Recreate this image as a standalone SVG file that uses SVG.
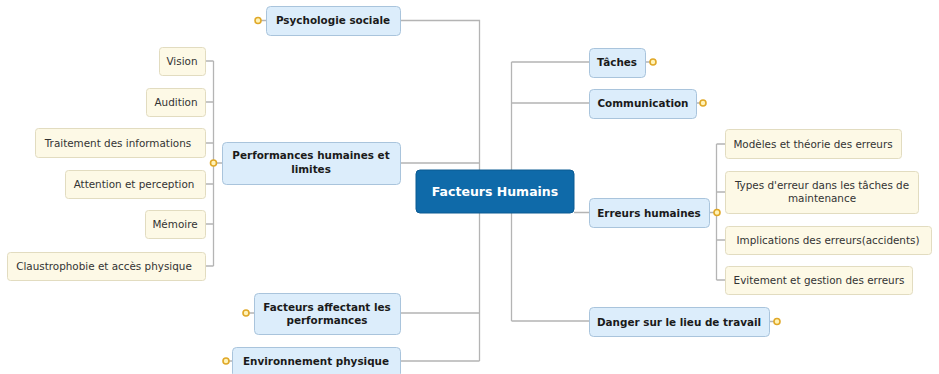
<svg xmlns="http://www.w3.org/2000/svg" width="939" height="374" viewBox="0 0 939 374">
<defs>
<style>
.bg{fill:#ffffff}
.ln{fill:none;stroke:#b4b4b4;stroke-width:1.3}
.sub{fill:#dcedfb;stroke:#a9c4dc;stroke-width:1}
.leaf{fill:#fdf9e6;stroke:#e2dcc0;stroke-width:1}
.root{fill:#0f6aa9;stroke:#0b5a92;stroke-width:1}
.dot{fill:#fff3b8;stroke:#e0a828;stroke-width:1.6}
.ts{font-family:"DejaVu Sans",Verdana,sans-serif;font-weight:bold;font-size:10.4px;fill:#1a1a1a}
.tl{font-family:"DejaVu Sans",Verdana,sans-serif;font-size:10.4px;fill:#333333}
.tr{font-family:"DejaVu Sans",Verdana,sans-serif;font-weight:bold;font-size:12.5px;fill:#ffffff}
</style>
</defs>
<rect class="bg" x="0" y="0" width="939" height="374"/>
<g id="connectors">
<path class="ln" d="M400 20.5H479.5V361M400 163H479.5M400 313H479.5M400 361H479.5M479.5 191H416"/>
<path class="ln" d="M574 212.5H589M511.5 62V321M511.5 62H589M511.5 103H589M511.5 321H589"/>
<path class="ln" d="M205 61H213.5M205 102H213.5M205 143H213.5M205 184H213.5M205 224H213.5M205 266H213.5M213.5 61V266M213.5 163H222"/>
<path class="ln" d="M709 212.5H716.5M716.5 144V280M716.5 144H725M716.5 192H725M716.5 240H725M716.5 280H725"/>
<path class="ln" d="M258 20.5H266M246 313H254M226 361H232M645 62H653M696 103H703M769 321.5H777"/>
</g>
<g id="root"><rect class="root" x="416" y="170" width="158" height="43" rx="4"/><text class="tr" x="495" y="196" text-anchor="middle">Facteurs Humains</text></g>
<g id="psychologie"><rect class="sub" x="266.5" y="6.5" width="134" height="29" rx="4"/><text class="ts" x="333" y="24" text-anchor="middle">Psychologie sociale</text><circle class="dot" cx="258" cy="20.5" r="3"/></g>
<g id="performances"><rect class="sub" x="222.5" y="142.5" width="178" height="42" rx="4"/><text class="ts" x="311" y="159" text-anchor="middle">Performances humaines et</text><text class="ts" x="311" y="173" text-anchor="middle">limites</text><circle class="dot" cx="213.5" cy="163" r="3"/></g>
<g id="facteurs"><rect class="sub" x="254.5" y="293.5" width="146" height="41" rx="4"/><text class="ts" x="327" y="311" text-anchor="middle">Facteurs affectant les</text><text class="ts" x="327" y="324" text-anchor="middle">performances</text><circle class="dot" cx="246" cy="313" r="3"/></g>
<g id="environnement"><rect class="sub" x="232.5" y="347.5" width="168" height="30" rx="4"/><text class="ts" x="316" y="365" text-anchor="middle">Environnement physique</text><circle class="dot" cx="226" cy="361" r="3"/></g>
<g id="vision"><rect class="leaf" x="159.5" y="47.5" width="46" height="28" rx="3"/><text class="tl" x="182" y="64.5" text-anchor="middle">Vision</text></g>
<g id="audition"><rect class="leaf" x="146.5" y="88.5" width="59" height="28" rx="3"/><text class="tl" x="176" y="105.5" text-anchor="middle">Audition</text></g>
<g id="traitement"><rect class="leaf" x="35.5" y="128.5" width="170" height="29" rx="3"/><text class="tl" x="118" y="146.5" text-anchor="middle">Traitement des informations</text></g>
<g id="attention"><rect class="leaf" x="65.5" y="170.5" width="140" height="28" rx="3"/><text class="tl" x="134" y="187.5" text-anchor="middle">Attention et perception</text></g>
<g id="memoire"><rect class="leaf" x="145.5" y="210.5" width="60" height="28" rx="3"/><text class="tl" x="175" y="227.5" text-anchor="middle">Mémoire</text></g>
<g id="claustrophobie"><rect class="leaf" x="7.5" y="252.5" width="198" height="28" rx="3"/><text class="tl" x="104" y="269.5" text-anchor="middle">Claustrophobie et accès physique</text></g>
<g id="taches"><rect class="sub" x="589.5" y="48.5" width="56" height="29" rx="4"/><text class="ts" x="617" y="66" text-anchor="middle">Tâches</text><circle class="dot" cx="653" cy="62" r="3"/></g>
<g id="communication"><rect class="sub" x="589.5" y="89.5" width="107" height="29" rx="4"/><text class="ts" x="643" y="107" text-anchor="middle">Communication</text><circle class="dot" cx="703" cy="103" r="3"/></g>
<g id="erreurs"><rect class="sub" x="589.5" y="198.5" width="120" height="29" rx="4"/><text class="ts" x="649" y="216.5" text-anchor="middle">Erreurs humaines</text><circle class="dot" cx="717" cy="212.5" r="3"/></g>
<g id="danger"><rect class="sub" x="589.5" y="307.5" width="180" height="29" rx="4"/><text class="ts" x="679" y="325.5" text-anchor="middle">Danger sur le lieu de travail</text><circle class="dot" cx="777" cy="321.5" r="3"/></g>
<g id="modeles"><rect class="leaf" x="725.5" y="129.5" width="176" height="29" rx="3"/><text class="tl" x="813" y="147.5" text-anchor="middle">Modèles et théorie des erreurs</text></g>
<g id="types"><rect class="leaf" x="725.5" y="171.5" width="193" height="42" rx="3"/><text class="tl" x="822" y="188.5" text-anchor="middle">Types d'erreur dans les tâches de</text><text class="tl" x="822" y="201.5" text-anchor="middle">maintenance</text></g>
<g id="implications"><rect class="leaf" x="725.5" y="226.5" width="206" height="28" rx="3"/><text class="tl" x="828" y="243.5" text-anchor="middle">Implications des erreurs(accidents)</text></g>
<g id="evitement"><rect class="leaf" x="725.5" y="266.5" width="187" height="28" rx="3"/><text class="tl" x="819" y="283.5" text-anchor="middle">Evitement et gestion des erreurs</text></g>
</svg>
